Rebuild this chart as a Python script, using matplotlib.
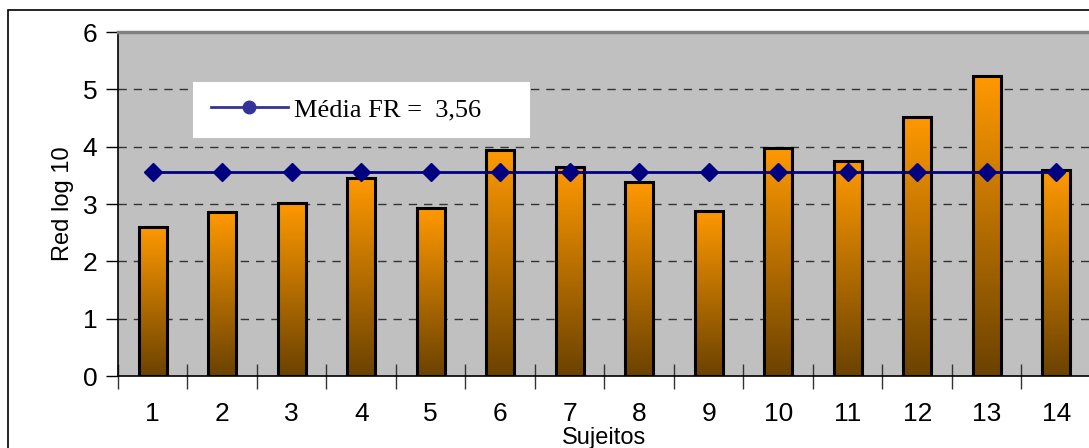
import numpy as np
import matplotlib
matplotlib.use('Agg')
import matplotlib.pyplot as plt
from matplotlib.colors import LinearSegmentedColormap
from matplotlib.lines import Line2D
from matplotlib.patches import Rectangle

sujeitos = list(range(1, 15))
red_log10 = [2.60, 2.86, 3.02, 3.45, 2.93, 3.94, 3.65, 3.38, 2.88, 3.98, 3.75, 4.52, 5.23, 3.59]
media_fr = 3.56
legend_label = 'Média FR =  3,56'

fig = plt.figure(figsize=(10.89, 4.48), dpi=100)
# frame around the whole chart
fig.patches.append(Rectangle((8 / 1089, -0.05), 1.2, 1 - 10 / 448 + 0.05, transform=fig.transFigure,
                             fill=False, edgecolor='black', linewidth=1.2, zorder=0))

ax = fig.add_axes([118 / 1089, 1 - 376 / 448, (1091 - 118) / 1089, (376 - 32) / 448])
ax.set_facecolor('#c0c0c0')

# horizontal dashed grid
for y in range(1, 6):
    ax.axhline(y, color='#333333', linewidth=1, linestyle=(0, (6, 5)), zorder=1)

# bars with orange-to-brown gradient
cmap = LinearSegmentedColormap.from_list('laranja', ['#6b4200', '#ff9900'])
grad = np.linspace(0, 1, 256).reshape(-1, 1)
width = 0.41
for x, v in zip(sujeitos, red_log10):
    ax.imshow(grad, cmap=cmap, origin='lower', aspect='auto',
              extent=(x - width / 2, x + width / 2, 0, v), zorder=2)
ax.bar(sujeitos, red_log10, width=width, facecolor='none',
       edgecolor='black', linewidth=2.2, zorder=3)
ax.set_xlim(0.5, 14.5)
ax.set_ylim(0, 6)

# mean line
ax.plot(sujeitos, [media_fr] * len(sujeitos), color='#000080', linewidth=2,
        marker='D', markersize=9, zorder=4)

# spines
ax.spines['right'].set_visible(False)
ax.spines['top'].set_color('#808080')
ax.spines['top'].set_linewidth(2.5)
ax.spines['left'].set_linewidth(1.2)
ax.spines['bottom'].set_linewidth(1.2)

ax.set_yticks(range(0, 7))
ax.tick_params(axis='y', direction='out', length=9, width=1, labelsize=19, pad=6)
ax.set_xticks(np.arange(0.5, 14.6, 1.0))
ax.set_xticklabels([])
ax.set_xticks(sujeitos, minor=True)
ax.set_xticklabels([str(s) for s in sujeitos], minor=True)
ax.tick_params(axis='x', which='major', direction='inout', length=18, width=1, color='#333333')
ax.tick_params(axis='x', which='minor', length=0, labelsize=19, pad=19)
for lbl in ax.get_yticklabels() + ax.get_xticklabels(minor=True):
    lbl.set_family('Liberation Sans')

ax.set_ylabel('Red log 10', fontsize=17, family='Liberation Sans', labelpad=6)
ax.set_xlabel('Sujeitos', fontsize=17, family='Liberation Sans')
ax.xaxis.set_label_coords(0.5, -0.147)

# white legend panel
ax.add_patch(Rectangle((0.0771, 0.6919), 0.3463, 0.1628, transform=ax.transAxes,
                       facecolor='white', edgecolor='none', zorder=5))
handle = Line2D([], [], color='#333399', linewidth=2, marker='o', markersize=9)
leg = ax.legend([handle], [legend_label], loc='center left', bbox_to_anchor=(0.0956, 0.7733),
                frameon=False, prop={'family': 'Liberation Serif', 'size': 19},
                handlelength=2.9, handletextpad=0.25, borderpad=0, borderaxespad=0)
leg.set_zorder(6)

fig.savefig('out.png', dpi=100)
